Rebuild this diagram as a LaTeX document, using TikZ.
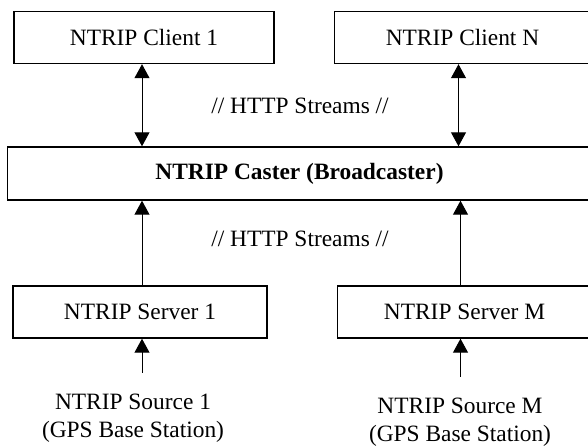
\documentclass[tikz,border=0pt]{standalone}
\usepackage{fontspec}
\setmainfont{Liberation Serif}
\usetikzlibrary{positioning}
\usetikzlibrary{arrows.meta}

\tikzset{
  box/.style={draw, line width=.7pt, inner sep=0pt, minimum height=26pt},
  link/.style={line width=.5pt, -{Triangle[width=7.5pt,length=7pt]}},
  biglink/.style={line width=.5pt, {Triangle[width=7.5pt,length=7pt]}-{Triangle[width=7.5pt,length=7pt]}},
}

\begin{document}
\begin{tikzpicture}[x=.5pt, y=-.5pt, font=\fontsize{11.7}{14}\selectfont]

\useasboundingbox (0,0) rectangle (588,448);
\clip (0,0) rectangle (588,448);

% clients
\node[box, minimum width=130pt] (client1) at (144,37.5) {NTRIP Client 1};
\node[box, minimum width=128pt] (clientN) at (462.5,37.5) {NTRIP Client N};

% caster
\node[box, minimum width=292pt, minimum height=26.5pt] (caster) at (299.5,173.5) {\textbf{NTRIP Caster (Broadcaster)}};

% servers
\node[box, minimum width=127pt] (server1) at (140,312) {NTRIP Server 1};
\node[box, minimum width=127pt] (serverM) at (464.5,312) {NTRIP Server M};

% sources
\node[align=center] (source1) at (133,418) {NTRIP Source 1\\(GPS Base Station)};
\node[align=center] (sourceM) at (460,422) {NTRIP Source M\\(GPS Base Station)};

% streams
\node (upper) at (300,106) {// HTTP Streams //};
\node (lower) at (300,239) {// HTTP Streams //};

% links
\draw[biglink] ([xshift=-1pt]client1.south) -- ([xshift=-1pt]client1.south |- caster.north);
\draw[biglink] ([xshift=-2pt]clientN.south) -- ([xshift=-2pt]clientN.south |- caster.north);
\draw[link] ([xshift=1pt]server1.north) -- ([xshift=1pt]server1.north |- caster.south);
\draw[link] ([xshift=-2pt]serverM.north) -- ([xshift=-2pt]serverM.north |- caster.south);
\draw[link] ([xshift=1pt,yshift=7pt]server1.south |- source1.north) -- ([xshift=1pt]server1.south);
\draw[link] ([xshift=-2pt,yshift=7pt]serverM.south |- sourceM.north) -- ([xshift=-2pt]serverM.south);

\end{tikzpicture}
\end{document}
